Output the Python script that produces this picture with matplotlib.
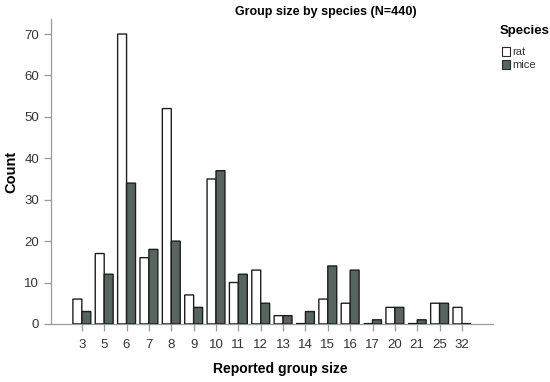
import matplotlib
matplotlib.use("Agg")
import matplotlib.pyplot as plt
import numpy as np
from matplotlib.patches import Patch

plt.rcParams['font.family'] = ['Liberation Sans', 'DejaVu Sans']

categories = ["3", "5", "6", "7", "8", "9", "10", "11", "12", "13", "14",
              "15", "16", "17", "20", "21", "25", "32"]
rat = [6, 17, 70, 16, 52, 7, 35, 10, 13, 2, 0, 6, 5, 0, 4, 0, 5, 4]
mice = [3, 12, 34, 18, 20, 4, 37, 12, 5, 2, 3, 14, 13, 1, 4, 1, 5, 0]
series_names = ["rat", "mice"]
series_colors = ["#ffffff", "#56655d"]

fig = plt.figure(figsize=(5.5, 3.82), dpi=100)
ax = fig.add_axes([0.0927, 0.152, 0.8033, 0.798])

x = np.arange(len(categories))
w = 0.4
for off, vals, col in [(-w / 2, rat, series_colors[0]), (w / 2, mice, series_colors[1])]:
    bars = ax.bar(x + off, vals, width=w, color=col, edgecolor="#1e1e1e",
                  linewidth=1.0, zorder=3)
    for b in bars:
        b.set_snap(False)
    # zero-count categories drawn as a baseline stroke, as in the reference
    xs = (x + off)[np.asarray(vals) == 0]
    ax.hlines(np.zeros(len(xs)), xs - w / 2, xs + w / 2, colors="#1e1e1e",
              linewidth=1.6, zorder=4)

ax.set_xlim(-1.38, len(categories) - 1 + 1.38)
ax.set_ylim(0, 73.6)
ax.set_xticks(x)
ax.set_xticklabels(categories)
ax.set_yticks([0, 10, 20, 30, 40, 50, 60, 70])

for s in ["top", "right"]:
    ax.spines[s].set_visible(False)
for s in ["left", "bottom"]:
    ax.spines[s].set_color("#9a9a9a")
    ax.spines[s].set_linewidth(0.9)
    ax.spines[s].set_zorder(1)
ax.tick_params(axis="both", colors="#9a9a9a", labelcolor="#333333", labelsize=9.5, length=5, width=0.9)
ax.tick_params(axis="x", pad=6)

ax.set_title("Group size by species (N=440)", fontsize=9, fontweight="bold", pad=3, x=0.622)
ax.set_xlabel("Reported group size", fontsize=10, fontweight="bold", labelpad=8, x=0.52)
ax.set_ylabel("Count", fontsize=10.5, fontweight="bold", labelpad=4)

fig.text(0.909, 0.918, "Species", fontsize=9.5, fontweight="bold", ha="left", va="center")
handles = [Patch(facecolor=c, edgecolor="#2a2a2a", linewidth=0.8) for c in series_colors]
leg = fig.legend(handles, series_names, loc="upper left",
                 bbox_to_anchor=(0.912, 0.877), frameon=False, fontsize=8,
                 handlelength=0.8, handleheight=0.9, handletextpad=0.2,
                 labelspacing=0.2, borderpad=0.0, borderaxespad=0.0)
for t in leg.get_texts():
    t.set_color("#333333")

fig.savefig("out.png", dpi=100)
